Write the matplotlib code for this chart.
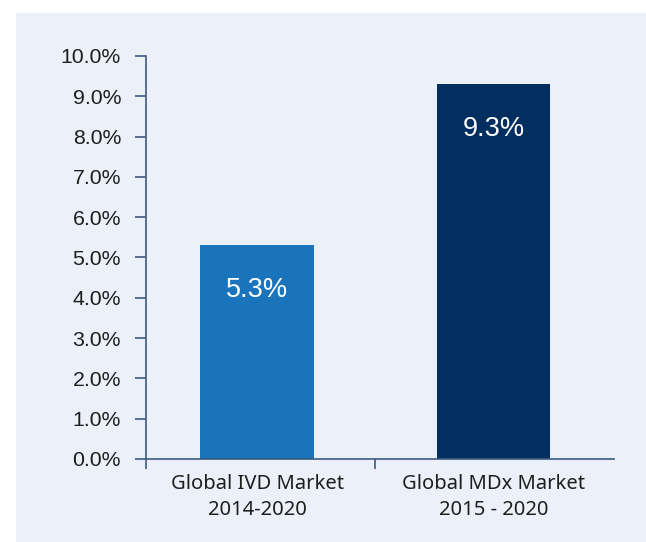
import matplotlib.pyplot as plt
from matplotlib.patches import Rectangle
from matplotlib.ticker import FixedLocator, PercentFormatter

categories = ["Global IVD Market\n2014-2020", "Global MDx Market\n2015 - 2020"]
growth = [5.3, 9.3]
bar_colors = ["#1a74bb", "#022f60"]

PANEL = "#ecf0f9"
AXIS = "#3d5a80"
TEXT = "#1e1e1e"

fig = plt.figure(figsize=(6.46, 5.42), dpi=100)
fig.patch.set_facecolor("white")
fig.add_artist(
    Rectangle((16 / 646, 0), 1, 1 - 13 / 542, transform=fig.transFigure,
              facecolor=PANEL, edgecolor="none", zorder=-5)
)

ax = fig.add_axes([146 / 646, 83 / 542, 468 / 646, 403 / 542])
ax.set_facecolor(PANEL)

x = list(range(len(categories)))
ax.bar(x, growth, width=0.48, color=bar_colors, zorder=2)

for xi, v in zip(x, growth):
    ax.text(xi, v - 1.1, f"{v:.1f}%", ha="center", va="center",
            color="white", fontsize=19.5, family="Liberation Sans")

ax.set_xlim(-0.47, 1.51)
ax.set_ylim(0, 10)
ax.set_yticks([i for i in range(11)])
ax.yaxis.set_major_formatter(PercentFormatter(decimals=1))

ax.set_xticks(x)
ax.set_xticklabels(categories, fontsize=14.5, color=TEXT, family="Noto Sans",
                   linespacing=1.38)
ax.xaxis.set_minor_locator(FixedLocator([-0.47, 0.5]))
ax.tick_params(axis="x", which="major", length=0, pad=11)
ax.tick_params(axis="x", which="minor", length=7, color=AXIS, width=1.2)
ax.tick_params(axis="y", length=8, color=AXIS, width=1.2, labelsize=15.3,
               labelcolor=TEXT, pad=10)
for lbl in ax.get_yticklabels():
    lbl.set_family("Liberation Sans")

for side in ["top", "right"]:
    ax.spines[side].set_visible(False)
for side in ["left", "bottom"]:
    ax.spines[side].set_color(AXIS)
    ax.spines[side].set_linewidth(1.2)

fig.savefig("out.png", dpi=100, facecolor=fig.get_facecolor())
